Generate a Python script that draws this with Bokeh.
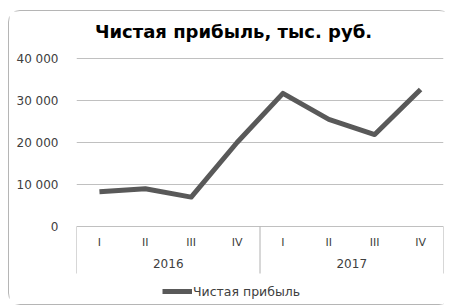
from bokeh.plotting import figure
from bokeh.models import FixedTicker, Range1d, Legend, Label
from bokeh.embed import file_html
from bokeh.resources import INLINE

years = ["2016", "2017"]
quarters = ["I", "II", "III", "IV"]
profit = [8300, 9000, 7000, 20000, 31700, 25500, 21900, 32600]
y_ticks = [0, 10000, 20000, 30000, 40000]
y_tick_labels = ["0", "10 000", "20 000", "30 000", "40 000"]
series_name = "Чистая прибыль"
title_text = "Чистая прибыль, тыс. руб."

FONT = "DejaVu Sans"
GREY_TXT = "#404040"

n_q = len(quarters)
n = len(years) * n_q
xs = [i + 0.5 for i in range(n)]
q_labels = [q for _ in years for q in quarters]
year_x = [k * n_q + n_q / 2 for k in range(len(years))]
sep_x = [k * n_q for k in range(len(years) + 1)]

# pixel layout: 0 at 168 px below 40 000; frame extends 47 px above and 78 px below
px = 40000 / 168.0
y_top = 40000 + 47 * px
y_bottom = -78 * px
q_y = -16 * px
yr_y = -37 * px
sep_y = -47 * px

p = figure(x_range=Range1d(0, n), y_range=Range1d(y_bottom, y_top),
           frame_width=367, frame_height=293,
           min_border_left=67, min_border_right=7, min_border_top=0, min_border_bottom=0,
           output_backend="svg", toolbar_location=None)
p.margin = (10, 0, 0, 8)
p.styles = {"border": "1px solid #b5b5b5", "border-radius": "12px"}

p.outline_line_color = None
p.xgrid.grid_line_color = None
p.xaxis.visible = False
p.ygrid.ticker = FixedTicker(ticks=y_ticks)
p.ygrid.grid_line_color = "#c0c0c0"
p.ygrid.grid_line_width = 1

yax = p.yaxis[0]
yax.ticker = FixedTicker(ticks=y_ticks)
yax.major_label_overrides = {t: l for t, l in zip(y_ticks, y_tick_labels)}
yax.axis_line_color = None
yax.major_tick_line_color = None
yax.minor_tick_line_color = None
yax.major_label_standoff = 12
yax.major_label_text_font = FONT
yax.major_label_text_font_size = "12px"
yax.major_label_text_color = GREY_TXT

# title (centred on the whole chart area)
title = Label(x=157, y=273, x_units="screen", y_units="screen", text=title_text,
              text_align="center", text_baseline="middle",
              text_font=FONT, text_font_size="18px", text_font_style="bold",
              text_color="#000000")
p.add_layout(title)

# category band: separators, quarter labels, year labels
p.segment(x0=sep_x, y0=[0] * len(sep_x), x1=sep_x, y1=[sep_y] * len(sep_x),
          line_color="#b0b0b0", line_width=1)
p.text(x=xs, y=[q_y] * n, text=q_labels, text_align="center", text_baseline="middle",
       text_font={"value": FONT}, text_font_size="11px", text_color=GREY_TXT)
p.text(x=year_x, y=[yr_y] * len(years), text=years, text_align="center", text_baseline="middle",
       text_font={"value": FONT}, text_font_size="12px", text_color=GREY_TXT)

r = p.line(x=xs, y=profit, line_color="#595959", line_width=5, line_join="round")

legend = Legend(items=[(series_name, [r])], location=(86, 3), orientation="horizontal")
legend.border_line_color = None
legend.background_fill_alpha = 0
legend.label_text_font = FONT
legend.label_text_font_size = "12.5px"
legend.label_text_color = GREY_TXT
legend.glyph_width = 30
legend.label_standoff = 1
legend.padding = 2
legend.margin = 0
p.add_layout(legend, "center")

open("out.html", "w").write(file_html(p, INLINE))
